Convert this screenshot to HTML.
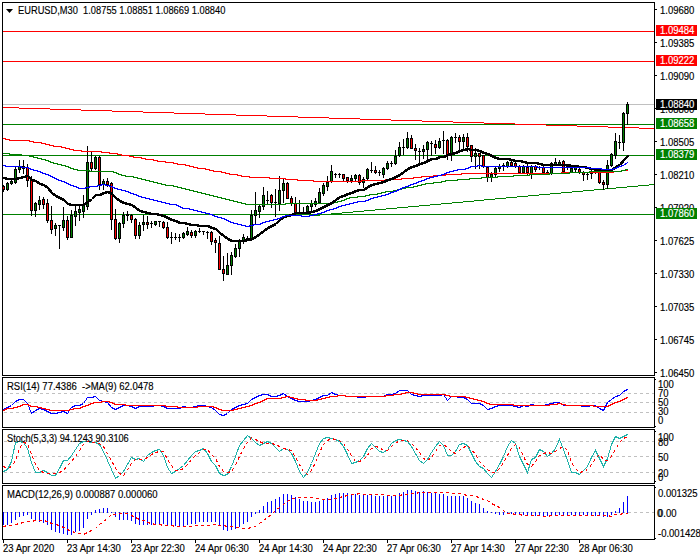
<!DOCTYPE html>
<html><head><meta charset="utf-8"><style>
html,body{margin:0;padding:0;background:#fff;}
body{width:700px;height:560px;position:relative;overflow:hidden;}
svg{position:absolute;left:0;top:0;}
.t{position:absolute;font-family:"Liberation Sans",sans-serif;font-size:10px;line-height:11px;white-space:pre;transform:scaleX(0.95);transform-origin:0 0;-webkit-text-stroke:0.15px #000;}
.b{position:absolute;left:656px;width:41px;height:11px;font-family:"Liberation Sans",sans-serif;font-size:10px;line-height:11px;color:#fff;white-space:pre;}
.b span{position:absolute;left:4px;top:0;transform:scaleX(0.95);transform-origin:0 0;-webkit-text-stroke:0.15px #fff;}
</style></head><body>
<svg width="700" height="560" viewBox="0 0 700 560" shape-rendering="crispEdges"><rect x="0" y="0" width="700" height="560" fill="#fff"/><defs><clipPath id="cm"><rect x="3" y="3" width="651" height="372"/></clipPath><clipPath id="cr"><rect x="3" y="378" width="651" height="49"/></clipPath><clipPath id="cs"><rect x="3" y="430" width="651" height="53"/></clipPath><clipPath id="cd"><rect x="3" y="486" width="651" height="53"/></clipPath></defs><g clip-path="url(#cm)"><rect x="3" y="31" width="651" height="1" fill="#ff0000"/><rect x="3" y="61" width="651" height="1" fill="#ff0000"/><rect x="3" y="104" width="651" height="1" fill="#c0c0c0"/><rect x="3" y="124" width="651" height="1" fill="#008000"/><rect x="3" y="155" width="651" height="1" fill="#008000"/><rect x="3" y="214" width="651" height="1" fill="#008000"/><rect x="3" y="107" width="16" height="1" fill="#ff0000"/><rect x="19" y="108" width="31" height="1" fill="#ff0000"/><rect x="50" y="109" width="31" height="1" fill="#ff0000"/><rect x="81" y="110" width="31" height="1" fill="#ff0000"/><rect x="112" y="111" width="31" height="1" fill="#ff0000"/><rect x="143" y="112" width="31" height="1" fill="#ff0000"/><rect x="174" y="113" width="31" height="1" fill="#ff0000"/><rect x="205" y="114" width="31" height="1" fill="#ff0000"/><rect x="236" y="115" width="31" height="1" fill="#ff0000"/><rect x="267" y="116" width="31" height="1" fill="#ff0000"/><rect x="298" y="117" width="31" height="1" fill="#ff0000"/><rect x="329" y="118" width="31" height="1" fill="#ff0000"/><rect x="360" y="119" width="31" height="1" fill="#ff0000"/><rect x="391" y="120" width="31" height="1" fill="#ff0000"/><rect x="422" y="121" width="31" height="1" fill="#ff0000"/><rect x="453" y="122" width="31" height="1" fill="#ff0000"/><rect x="484" y="123" width="31" height="1" fill="#ff0000"/><rect x="515" y="124" width="31" height="1" fill="#ff0000"/><rect x="546" y="125" width="31" height="1" fill="#ff0000"/><rect x="577" y="126" width="31" height="1" fill="#ff0000"/><rect x="608" y="127" width="31" height="1" fill="#ff0000"/><rect x="639" y="128" width="16" height="1" fill="#ff0000"/><rect x="303" y="216" width="6" height="1" fill="#008000"/><rect x="309" y="215" width="11" height="1" fill="#008000"/><rect x="320" y="214" width="11" height="1" fill="#008000"/><rect x="331" y="213" width="11" height="1" fill="#008000"/><rect x="342" y="212" width="11" height="1" fill="#008000"/><rect x="353" y="211" width="11" height="1" fill="#008000"/><rect x="364" y="210" width="11" height="1" fill="#008000"/><rect x="375" y="209" width="11" height="1" fill="#008000"/><rect x="386" y="208" width="11" height="1" fill="#008000"/><rect x="397" y="207" width="11" height="1" fill="#008000"/><rect x="408" y="206" width="11" height="1" fill="#008000"/><rect x="419" y="205" width="11" height="1" fill="#008000"/><rect x="430" y="204" width="11" height="1" fill="#008000"/><rect x="441" y="203" width="11" height="1" fill="#008000"/><rect x="452" y="202" width="11" height="1" fill="#008000"/><rect x="463" y="201" width="11" height="1" fill="#008000"/><rect x="474" y="200" width="10" height="1" fill="#008000"/><rect x="484" y="199" width="11" height="1" fill="#008000"/><rect x="495" y="198" width="11" height="1" fill="#008000"/><rect x="506" y="197" width="11" height="1" fill="#008000"/><rect x="517" y="196" width="11" height="1" fill="#008000"/><rect x="528" y="195" width="11" height="1" fill="#008000"/><rect x="539" y="194" width="11" height="1" fill="#008000"/><rect x="550" y="193" width="11" height="1" fill="#008000"/><rect x="561" y="192" width="11" height="1" fill="#008000"/><rect x="572" y="191" width="11" height="1" fill="#008000"/><rect x="583" y="190" width="11" height="1" fill="#008000"/><rect x="594" y="189" width="11" height="1" fill="#008000"/><rect x="605" y="188" width="11" height="1" fill="#008000"/><rect x="616" y="187" width="11" height="1" fill="#008000"/><rect x="627" y="186" width="11" height="1" fill="#008000"/><rect x="638" y="185" width="11" height="1" fill="#008000"/><rect x="649" y="184" width="6" height="1" fill="#008000"/><rect x="3" y="185" width="1" height="7" fill="#000"/><rect x="2" y="186" width="3" height="4" fill="#000"/><rect x="3" y="187" width="1" height="2" fill="#ff0000"/><rect x="7" y="182" width="1" height="9" fill="#000"/><rect x="6" y="183" width="3" height="7" fill="#000"/><rect x="7" y="184" width="1" height="5" fill="#008000"/><rect x="11" y="180" width="1" height="5" fill="#000"/><rect x="10" y="181" width="3" height="3" fill="#000"/><rect x="11" y="182" width="1" height="1" fill="#008000"/><rect x="15" y="166" width="1" height="18" fill="#000"/><rect x="14" y="169" width="3" height="14" fill="#000"/><rect x="15" y="170" width="1" height="12" fill="#008000"/><rect x="19" y="160" width="1" height="13" fill="#000"/><rect x="18" y="166" width="3" height="4" fill="#000"/><rect x="19" y="167" width="1" height="2" fill="#008000"/><rect x="23" y="160" width="1" height="14" fill="#000"/><rect x="22" y="166" width="3" height="3" fill="#000"/><rect x="23" y="167" width="1" height="1" fill="#008000"/><rect x="27" y="164" width="1" height="23" fill="#000"/><rect x="26" y="167" width="3" height="14" fill="#000"/><rect x="27" y="168" width="1" height="12" fill="#ff0000"/><rect x="31" y="176" width="1" height="40" fill="#000"/><rect x="30" y="180" width="3" height="31" fill="#000"/><rect x="31" y="181" width="1" height="29" fill="#ff0000"/><rect x="35" y="202" width="1" height="15" fill="#000"/><rect x="34" y="203" width="3" height="8" fill="#000"/><rect x="35" y="204" width="1" height="6" fill="#008000"/><rect x="39" y="196" width="1" height="14" fill="#000"/><rect x="38" y="200" width="3" height="5" fill="#000"/><rect x="39" y="201" width="1" height="3" fill="#008000"/><rect x="43" y="197" width="1" height="12" fill="#000"/><rect x="42" y="199" width="3" height="6" fill="#000"/><rect x="43" y="200" width="1" height="4" fill="#ff0000"/><rect x="47" y="199" width="1" height="24" fill="#000"/><rect x="46" y="203" width="3" height="18" fill="#000"/><rect x="47" y="204" width="1" height="16" fill="#ff0000"/><rect x="51" y="206" width="1" height="28" fill="#000"/><rect x="50" y="220" width="3" height="10" fill="#000"/><rect x="51" y="221" width="1" height="8" fill="#ff0000"/><rect x="55" y="223" width="1" height="13" fill="#000"/><rect x="54" y="225" width="3" height="4" fill="#000"/><rect x="55" y="226" width="1" height="2" fill="#008000"/><rect x="59" y="225" width="1" height="24" fill="#000"/><rect x="58" y="225" width="3" height="1" fill="#000"/><rect x="63" y="207" width="1" height="24" fill="#000"/><rect x="62" y="220" width="3" height="8" fill="#000"/><rect x="63" y="221" width="1" height="6" fill="#008000"/><rect x="67" y="216" width="1" height="24" fill="#000"/><rect x="66" y="220" width="3" height="18" fill="#000"/><rect x="67" y="221" width="1" height="16" fill="#ff0000"/><rect x="71" y="210" width="1" height="28" fill="#000"/><rect x="70" y="215" width="3" height="23" fill="#000"/><rect x="71" y="216" width="1" height="21" fill="#008000"/><rect x="75" y="206" width="1" height="20" fill="#000"/><rect x="74" y="211" width="3" height="6" fill="#000"/><rect x="75" y="212" width="1" height="4" fill="#008000"/><rect x="79" y="205" width="1" height="16" fill="#000"/><rect x="78" y="209" width="3" height="4" fill="#000"/><rect x="79" y="210" width="1" height="2" fill="#008000"/><rect x="83" y="195" width="1" height="23" fill="#000"/><rect x="82" y="205" width="3" height="7" fill="#000"/><rect x="83" y="206" width="1" height="5" fill="#008000"/><rect x="87" y="146" width="1" height="64" fill="#000"/><rect x="86" y="162" width="3" height="45" fill="#000"/><rect x="87" y="163" width="1" height="43" fill="#008000"/><rect x="91" y="151" width="1" height="21" fill="#000"/><rect x="90" y="162" width="3" height="7" fill="#000"/><rect x="91" y="163" width="1" height="5" fill="#ff0000"/><rect x="95" y="156" width="1" height="14" fill="#000"/><rect x="94" y="157" width="3" height="12" fill="#000"/><rect x="95" y="158" width="1" height="10" fill="#008000"/><rect x="99" y="156" width="1" height="34" fill="#000"/><rect x="98" y="157" width="3" height="28" fill="#000"/><rect x="99" y="158" width="1" height="26" fill="#ff0000"/><rect x="103" y="179" width="1" height="11" fill="#000"/><rect x="102" y="181" width="3" height="4" fill="#000"/><rect x="103" y="182" width="1" height="2" fill="#008000"/><rect x="107" y="178" width="1" height="9" fill="#000"/><rect x="106" y="181" width="3" height="4" fill="#000"/><rect x="107" y="182" width="1" height="2" fill="#ff0000"/><rect x="111" y="182" width="1" height="48" fill="#000"/><rect x="110" y="183" width="3" height="37" fill="#000"/><rect x="111" y="184" width="1" height="35" fill="#ff0000"/><rect x="115" y="209" width="1" height="31" fill="#000"/><rect x="114" y="219" width="3" height="20" fill="#000"/><rect x="115" y="220" width="1" height="18" fill="#ff0000"/><rect x="119" y="222" width="1" height="21" fill="#000"/><rect x="118" y="223" width="3" height="16" fill="#000"/><rect x="119" y="224" width="1" height="14" fill="#008000"/><rect x="123" y="212" width="1" height="16" fill="#000"/><rect x="122" y="215" width="3" height="9" fill="#000"/><rect x="123" y="216" width="1" height="7" fill="#008000"/><rect x="127" y="211" width="1" height="10" fill="#000"/><rect x="126" y="214" width="3" height="2" fill="#000"/><rect x="131" y="214" width="1" height="9" fill="#000"/><rect x="130" y="215" width="3" height="5" fill="#000"/><rect x="131" y="216" width="1" height="3" fill="#ff0000"/><rect x="135" y="218" width="1" height="21" fill="#000"/><rect x="134" y="219" width="3" height="17" fill="#000"/><rect x="135" y="220" width="1" height="15" fill="#ff0000"/><rect x="139" y="222" width="1" height="17" fill="#000"/><rect x="138" y="225" width="3" height="11" fill="#000"/><rect x="139" y="226" width="1" height="9" fill="#008000"/><rect x="143" y="215" width="1" height="16" fill="#000"/><rect x="142" y="222" width="3" height="3" fill="#000"/><rect x="143" y="223" width="1" height="1" fill="#008000"/><rect x="147" y="216" width="1" height="13" fill="#000"/><rect x="146" y="222" width="3" height="3" fill="#000"/><rect x="147" y="223" width="1" height="1" fill="#ff0000"/><rect x="151" y="221" width="1" height="7" fill="#000"/><rect x="150" y="223" width="3" height="1" fill="#000"/><rect x="155" y="221" width="1" height="5" fill="#000"/><rect x="154" y="221" width="3" height="4" fill="#000"/><rect x="155" y="222" width="1" height="2" fill="#008000"/><rect x="159" y="221" width="1" height="6" fill="#000"/><rect x="158" y="221" width="3" height="1" fill="#000"/><rect x="163" y="221" width="1" height="8" fill="#000"/><rect x="162" y="222" width="3" height="6" fill="#000"/><rect x="163" y="223" width="1" height="4" fill="#ff0000"/><rect x="167" y="222" width="1" height="17" fill="#000"/><rect x="166" y="227" width="3" height="11" fill="#000"/><rect x="167" y="228" width="1" height="9" fill="#ff0000"/><rect x="171" y="232" width="1" height="12" fill="#000"/><rect x="170" y="237" width="3" height="1" fill="#000"/><rect x="175" y="233" width="1" height="7" fill="#000"/><rect x="174" y="237" width="3" height="1" fill="#000"/><rect x="179" y="234" width="1" height="8" fill="#000"/><rect x="178" y="237" width="3" height="1" fill="#000"/><rect x="183" y="232" width="1" height="7" fill="#000"/><rect x="182" y="233" width="3" height="5" fill="#000"/><rect x="183" y="234" width="1" height="3" fill="#008000"/><rect x="187" y="227" width="1" height="9" fill="#000"/><rect x="186" y="231" width="3" height="4" fill="#000"/><rect x="187" y="232" width="1" height="2" fill="#008000"/><rect x="191" y="230" width="1" height="8" fill="#000"/><rect x="190" y="232" width="3" height="4" fill="#000"/><rect x="191" y="233" width="1" height="2" fill="#ff0000"/><rect x="195" y="230" width="1" height="8" fill="#000"/><rect x="194" y="231" width="3" height="5" fill="#000"/><rect x="195" y="232" width="1" height="3" fill="#008000"/><rect x="199" y="228" width="1" height="5" fill="#000"/><rect x="198" y="231" width="3" height="1" fill="#000"/><rect x="203" y="231" width="1" height="4" fill="#000"/><rect x="202" y="231" width="3" height="1" fill="#000"/><rect x="207" y="231" width="1" height="8" fill="#000"/><rect x="206" y="232" width="3" height="1" fill="#000"/><rect x="211" y="231" width="1" height="14" fill="#000"/><rect x="210" y="232" width="3" height="10" fill="#000"/><rect x="211" y="233" width="1" height="8" fill="#ff0000"/><rect x="215" y="238" width="1" height="15" fill="#000"/><rect x="214" y="240" width="3" height="3" fill="#000"/><rect x="215" y="241" width="1" height="1" fill="#ff0000"/><rect x="219" y="236" width="1" height="34" fill="#000"/><rect x="218" y="243" width="3" height="27" fill="#000"/><rect x="219" y="244" width="1" height="25" fill="#ff0000"/><rect x="223" y="256" width="1" height="25" fill="#000"/><rect x="222" y="269" width="3" height="5" fill="#000"/><rect x="223" y="270" width="1" height="3" fill="#ff0000"/><rect x="227" y="253" width="1" height="22" fill="#000"/><rect x="226" y="265" width="3" height="10" fill="#000"/><rect x="227" y="266" width="1" height="8" fill="#008000"/><rect x="231" y="252" width="1" height="23" fill="#000"/><rect x="230" y="255" width="3" height="11" fill="#000"/><rect x="231" y="256" width="1" height="9" fill="#008000"/><rect x="235" y="244" width="1" height="14" fill="#000"/><rect x="234" y="248" width="3" height="9" fill="#000"/><rect x="235" y="249" width="1" height="7" fill="#008000"/><rect x="239" y="239" width="1" height="18" fill="#000"/><rect x="238" y="241" width="3" height="8" fill="#000"/><rect x="239" y="242" width="1" height="6" fill="#008000"/><rect x="243" y="234" width="1" height="10" fill="#000"/><rect x="242" y="237" width="3" height="4" fill="#000"/><rect x="243" y="238" width="1" height="2" fill="#008000"/><rect x="247" y="236" width="1" height="5" fill="#000"/><rect x="246" y="238" width="3" height="1" fill="#000"/><rect x="251" y="210" width="1" height="31" fill="#000"/><rect x="250" y="215" width="3" height="25" fill="#000"/><rect x="251" y="216" width="1" height="23" fill="#008000"/><rect x="255" y="192" width="1" height="32" fill="#000"/><rect x="254" y="210" width="3" height="6" fill="#000"/><rect x="255" y="211" width="1" height="4" fill="#008000"/><rect x="259" y="205" width="1" height="13" fill="#000"/><rect x="258" y="206" width="3" height="6" fill="#000"/><rect x="259" y="207" width="1" height="4" fill="#008000"/><rect x="263" y="187" width="1" height="23" fill="#000"/><rect x="262" y="195" width="3" height="12" fill="#000"/><rect x="263" y="196" width="1" height="10" fill="#008000"/><rect x="267" y="191" width="1" height="13" fill="#000"/><rect x="266" y="200" width="3" height="1" fill="#000"/><rect x="271" y="194" width="1" height="14" fill="#000"/><rect x="270" y="195" width="3" height="8" fill="#000"/><rect x="271" y="196" width="1" height="6" fill="#ff0000"/><rect x="275" y="189" width="1" height="28" fill="#000"/><rect x="274" y="202" width="3" height="1" fill="#000"/><rect x="279" y="176" width="1" height="35" fill="#000"/><rect x="278" y="190" width="3" height="14" fill="#000"/><rect x="279" y="191" width="1" height="12" fill="#008000"/><rect x="283" y="178" width="1" height="25" fill="#000"/><rect x="282" y="183" width="3" height="8" fill="#000"/><rect x="283" y="184" width="1" height="6" fill="#008000"/><rect x="287" y="182" width="1" height="17" fill="#000"/><rect x="286" y="183" width="3" height="16" fill="#000"/><rect x="287" y="184" width="1" height="14" fill="#ff0000"/><rect x="291" y="196" width="1" height="10" fill="#000"/><rect x="290" y="198" width="3" height="6" fill="#000"/><rect x="291" y="199" width="1" height="4" fill="#ff0000"/><rect x="295" y="197" width="1" height="17" fill="#000"/><rect x="294" y="203" width="3" height="10" fill="#000"/><rect x="295" y="204" width="1" height="8" fill="#ff0000"/><rect x="299" y="200" width="1" height="14" fill="#000"/><rect x="298" y="212" width="3" height="1" fill="#000"/><rect x="303" y="207" width="1" height="7" fill="#000"/><rect x="302" y="212" width="3" height="1" fill="#000"/><rect x="307" y="205" width="1" height="8" fill="#000"/><rect x="306" y="206" width="3" height="6" fill="#000"/><rect x="307" y="207" width="1" height="4" fill="#008000"/><rect x="311" y="200" width="1" height="12" fill="#000"/><rect x="310" y="203" width="3" height="4" fill="#000"/><rect x="311" y="204" width="1" height="2" fill="#008000"/><rect x="315" y="198" width="1" height="9" fill="#000"/><rect x="314" y="201" width="3" height="4" fill="#000"/><rect x="315" y="202" width="1" height="2" fill="#008000"/><rect x="319" y="188" width="1" height="16" fill="#000"/><rect x="318" y="192" width="3" height="11" fill="#000"/><rect x="319" y="193" width="1" height="9" fill="#008000"/><rect x="323" y="183" width="1" height="13" fill="#000"/><rect x="322" y="185" width="3" height="9" fill="#000"/><rect x="323" y="186" width="1" height="7" fill="#008000"/><rect x="327" y="176" width="1" height="15" fill="#000"/><rect x="326" y="182" width="3" height="5" fill="#000"/><rect x="327" y="183" width="1" height="3" fill="#008000"/><rect x="331" y="165" width="1" height="18" fill="#000"/><rect x="330" y="171" width="3" height="11" fill="#000"/><rect x="331" y="172" width="1" height="9" fill="#008000"/><rect x="335" y="173" width="1" height="5" fill="#000"/><rect x="334" y="174" width="3" height="1" fill="#000"/><rect x="339" y="173" width="1" height="5" fill="#000"/><rect x="338" y="174" width="3" height="1" fill="#000"/><rect x="343" y="174" width="1" height="7" fill="#000"/><rect x="342" y="174" width="3" height="5" fill="#000"/><rect x="343" y="175" width="1" height="3" fill="#ff0000"/><rect x="347" y="177" width="1" height="6" fill="#000"/><rect x="346" y="177" width="3" height="4" fill="#000"/><rect x="347" y="178" width="1" height="2" fill="#ff0000"/><rect x="351" y="175" width="1" height="8" fill="#000"/><rect x="350" y="178" width="3" height="3" fill="#000"/><rect x="351" y="179" width="1" height="1" fill="#008000"/><rect x="355" y="174" width="1" height="8" fill="#000"/><rect x="354" y="175" width="3" height="4" fill="#000"/><rect x="355" y="176" width="1" height="2" fill="#008000"/><rect x="359" y="174" width="1" height="11" fill="#000"/><rect x="358" y="175" width="3" height="8" fill="#000"/><rect x="359" y="176" width="1" height="6" fill="#ff0000"/><rect x="363" y="177" width="1" height="11" fill="#000"/><rect x="362" y="179" width="3" height="4" fill="#000"/><rect x="363" y="180" width="1" height="2" fill="#008000"/><rect x="367" y="168" width="1" height="13" fill="#000"/><rect x="366" y="169" width="3" height="10" fill="#000"/><rect x="367" y="170" width="1" height="8" fill="#008000"/><rect x="371" y="162" width="1" height="11" fill="#000"/><rect x="370" y="170" width="3" height="1" fill="#000"/><rect x="375" y="166" width="1" height="8" fill="#000"/><rect x="374" y="170" width="3" height="3" fill="#000"/><rect x="375" y="171" width="1" height="1" fill="#ff0000"/><rect x="379" y="170" width="1" height="6" fill="#000"/><rect x="378" y="172" width="3" height="1" fill="#000"/><rect x="383" y="167" width="1" height="11" fill="#000"/><rect x="382" y="168" width="3" height="7" fill="#000"/><rect x="383" y="169" width="1" height="5" fill="#008000"/><rect x="387" y="161" width="1" height="9" fill="#000"/><rect x="386" y="163" width="3" height="6" fill="#000"/><rect x="387" y="164" width="1" height="4" fill="#008000"/><rect x="391" y="161" width="1" height="6" fill="#000"/><rect x="390" y="163" width="3" height="1" fill="#000"/><rect x="395" y="150" width="1" height="15" fill="#000"/><rect x="394" y="156" width="3" height="8" fill="#000"/><rect x="395" y="157" width="1" height="6" fill="#008000"/><rect x="399" y="142" width="1" height="15" fill="#000"/><rect x="398" y="147" width="3" height="9" fill="#000"/><rect x="399" y="148" width="1" height="7" fill="#008000"/><rect x="403" y="139" width="1" height="16" fill="#000"/><rect x="402" y="147" width="3" height="1" fill="#000"/><rect x="407" y="132" width="1" height="17" fill="#000"/><rect x="406" y="138" width="3" height="10" fill="#000"/><rect x="407" y="139" width="1" height="8" fill="#008000"/><rect x="411" y="135" width="1" height="14" fill="#000"/><rect x="410" y="138" width="3" height="11" fill="#000"/><rect x="411" y="139" width="1" height="9" fill="#ff0000"/><rect x="415" y="144" width="1" height="16" fill="#000"/><rect x="414" y="148" width="3" height="3" fill="#000"/><rect x="415" y="149" width="1" height="1" fill="#ff0000"/><rect x="419" y="148" width="1" height="15" fill="#000"/><rect x="418" y="151" width="3" height="1" fill="#000"/><rect x="423" y="145" width="1" height="14" fill="#000"/><rect x="422" y="149" width="3" height="3" fill="#000"/><rect x="423" y="150" width="1" height="1" fill="#008000"/><rect x="427" y="141" width="1" height="19" fill="#000"/><rect x="426" y="142" width="3" height="8" fill="#000"/><rect x="427" y="143" width="1" height="6" fill="#008000"/><rect x="431" y="141" width="1" height="15" fill="#000"/><rect x="430" y="143" width="3" height="1" fill="#000"/><rect x="435" y="140" width="1" height="14" fill="#000"/><rect x="434" y="144" width="3" height="4" fill="#000"/><rect x="435" y="145" width="1" height="2" fill="#ff0000"/><rect x="439" y="138" width="1" height="11" fill="#000"/><rect x="438" y="141" width="3" height="7" fill="#000"/><rect x="439" y="142" width="1" height="5" fill="#008000"/><rect x="443" y="131" width="1" height="23" fill="#000"/><rect x="442" y="140" width="3" height="1" fill="#000"/><rect x="447" y="139" width="1" height="21" fill="#000"/><rect x="446" y="140" width="3" height="15" fill="#000"/><rect x="447" y="141" width="1" height="13" fill="#ff0000"/><rect x="451" y="136" width="1" height="25" fill="#000"/><rect x="450" y="137" width="3" height="18" fill="#000"/><rect x="451" y="138" width="1" height="16" fill="#008000"/><rect x="455" y="133" width="1" height="10" fill="#000"/><rect x="454" y="137" width="3" height="1" fill="#000"/><rect x="459" y="135" width="1" height="18" fill="#000"/><rect x="458" y="137" width="3" height="5" fill="#000"/><rect x="459" y="138" width="1" height="3" fill="#ff0000"/><rect x="463" y="134" width="1" height="15" fill="#000"/><rect x="462" y="137" width="3" height="5" fill="#000"/><rect x="463" y="138" width="1" height="3" fill="#008000"/><rect x="467" y="133" width="1" height="19" fill="#000"/><rect x="466" y="137" width="3" height="10" fill="#000"/><rect x="467" y="138" width="1" height="8" fill="#ff0000"/><rect x="471" y="145" width="1" height="17" fill="#000"/><rect x="470" y="145" width="3" height="12" fill="#000"/><rect x="471" y="146" width="1" height="10" fill="#ff0000"/><rect x="475" y="148" width="1" height="21" fill="#000"/><rect x="474" y="153" width="3" height="4" fill="#000"/><rect x="475" y="154" width="1" height="2" fill="#008000"/><rect x="479" y="153" width="1" height="16" fill="#000"/><rect x="478" y="153" width="3" height="4" fill="#000"/><rect x="479" y="154" width="1" height="2" fill="#ff0000"/><rect x="483" y="155" width="1" height="13" fill="#000"/><rect x="482" y="155" width="3" height="12" fill="#000"/><rect x="483" y="156" width="1" height="10" fill="#ff0000"/><rect x="487" y="166" width="1" height="16" fill="#000"/><rect x="486" y="167" width="3" height="11" fill="#000"/><rect x="487" y="168" width="1" height="9" fill="#ff0000"/><rect x="491" y="172" width="1" height="10" fill="#000"/><rect x="490" y="174" width="3" height="4" fill="#000"/><rect x="491" y="175" width="1" height="2" fill="#008000"/><rect x="495" y="167" width="1" height="10" fill="#000"/><rect x="494" y="168" width="3" height="7" fill="#000"/><rect x="495" y="169" width="1" height="5" fill="#008000"/><rect x="499" y="164" width="1" height="8" fill="#000"/><rect x="498" y="166" width="3" height="3" fill="#000"/><rect x="499" y="167" width="1" height="1" fill="#008000"/><rect x="503" y="163" width="1" height="8" fill="#000"/><rect x="502" y="165" width="3" height="1" fill="#000"/><rect x="507" y="161" width="1" height="7" fill="#000"/><rect x="506" y="162" width="3" height="5" fill="#000"/><rect x="507" y="163" width="1" height="3" fill="#008000"/><rect x="511" y="161" width="1" height="6" fill="#000"/><rect x="510" y="162" width="3" height="4" fill="#000"/><rect x="511" y="163" width="1" height="2" fill="#ff0000"/><rect x="515" y="162" width="1" height="6" fill="#000"/><rect x="514" y="163" width="3" height="4" fill="#000"/><rect x="515" y="164" width="1" height="2" fill="#ff0000"/><rect x="519" y="165" width="1" height="9" fill="#000"/><rect x="518" y="166" width="3" height="7" fill="#000"/><rect x="519" y="167" width="1" height="5" fill="#ff0000"/><rect x="523" y="165" width="1" height="9" fill="#000"/><rect x="522" y="166" width="3" height="7" fill="#000"/><rect x="523" y="167" width="1" height="5" fill="#008000"/><rect x="527" y="164" width="1" height="12" fill="#000"/><rect x="526" y="167" width="3" height="6" fill="#000"/><rect x="527" y="168" width="1" height="4" fill="#ff0000"/><rect x="531" y="165" width="1" height="14" fill="#000"/><rect x="530" y="166" width="3" height="8" fill="#000"/><rect x="531" y="167" width="1" height="6" fill="#008000"/><rect x="535" y="165" width="1" height="7" fill="#000"/><rect x="534" y="166" width="3" height="4" fill="#000"/><rect x="535" y="167" width="1" height="2" fill="#ff0000"/><rect x="539" y="166" width="1" height="4" fill="#000"/><rect x="538" y="167" width="3" height="1" fill="#000"/><rect x="543" y="166" width="1" height="8" fill="#000"/><rect x="542" y="167" width="3" height="6" fill="#000"/><rect x="543" y="168" width="1" height="4" fill="#ff0000"/><rect x="547" y="170" width="1" height="4" fill="#000"/><rect x="546" y="172" width="3" height="1" fill="#000"/><rect x="551" y="162" width="1" height="13" fill="#000"/><rect x="550" y="163" width="3" height="11" fill="#000"/><rect x="551" y="164" width="1" height="9" fill="#008000"/><rect x="555" y="158" width="1" height="8" fill="#000"/><rect x="554" y="162" width="3" height="3" fill="#000"/><rect x="555" y="163" width="1" height="1" fill="#008000"/><rect x="559" y="160" width="1" height="6" fill="#000"/><rect x="558" y="162" width="3" height="3" fill="#000"/><rect x="559" y="163" width="1" height="1" fill="#008000"/><rect x="563" y="160" width="1" height="13" fill="#000"/><rect x="562" y="161" width="3" height="11" fill="#000"/><rect x="563" y="162" width="1" height="9" fill="#ff0000"/><rect x="567" y="164" width="1" height="6" fill="#000"/><rect x="566" y="166" width="3" height="1" fill="#000"/><rect x="571" y="167" width="1" height="6" fill="#000"/><rect x="570" y="168" width="3" height="5" fill="#000"/><rect x="571" y="169" width="1" height="3" fill="#008000"/><rect x="575" y="166" width="1" height="7" fill="#000"/><rect x="574" y="167" width="3" height="3" fill="#000"/><rect x="575" y="168" width="1" height="1" fill="#008000"/><rect x="579" y="168" width="1" height="6" fill="#000"/><rect x="578" y="169" width="3" height="4" fill="#000"/><rect x="579" y="170" width="1" height="2" fill="#ff0000"/><rect x="583" y="171" width="1" height="10" fill="#000"/><rect x="582" y="172" width="3" height="3" fill="#000"/><rect x="583" y="173" width="1" height="1" fill="#ff0000"/><rect x="587" y="172" width="1" height="8" fill="#000"/><rect x="586" y="174" width="3" height="1" fill="#000"/><rect x="591" y="170" width="1" height="9" fill="#000"/><rect x="590" y="173" width="3" height="1" fill="#000"/><rect x="595" y="169" width="1" height="5" fill="#000"/><rect x="594" y="170" width="3" height="3" fill="#000"/><rect x="595" y="171" width="1" height="1" fill="#008000"/><rect x="599" y="170" width="1" height="14" fill="#000"/><rect x="598" y="172" width="3" height="11" fill="#000"/><rect x="599" y="173" width="1" height="9" fill="#ff0000"/><rect x="603" y="180" width="1" height="10" fill="#000"/><rect x="602" y="182" width="3" height="3" fill="#000"/><rect x="603" y="183" width="1" height="1" fill="#ff0000"/><rect x="607" y="160" width="1" height="29" fill="#000"/><rect x="606" y="165" width="3" height="20" fill="#000"/><rect x="607" y="166" width="1" height="18" fill="#008000"/><rect x="611" y="153" width="1" height="14" fill="#000"/><rect x="610" y="154" width="3" height="12" fill="#000"/><rect x="611" y="155" width="1" height="10" fill="#008000"/><rect x="615" y="133" width="1" height="26" fill="#000"/><rect x="614" y="141" width="3" height="15" fill="#000"/><rect x="615" y="142" width="1" height="13" fill="#008000"/><rect x="619" y="135" width="1" height="14" fill="#000"/><rect x="618" y="142" width="3" height="1" fill="#000"/><rect x="623" y="112" width="1" height="39" fill="#000"/><rect x="622" y="113" width="3" height="30" fill="#000"/><rect x="623" y="114" width="1" height="28" fill="#008000"/><rect x="627" y="102" width="1" height="23" fill="#000"/><rect x="626" y="104" width="3" height="10" fill="#000"/><rect x="627" y="105" width="1" height="8" fill="#008000"/><polyline points="3.5,138.5 7.5,139.5 11.5,140.5 15.5,140.5 19.5,140.5 23.5,140.5 27.5,140.5 31.5,141.5 35.5,142.5 39.5,142.5 43.5,143.5 47.5,144.5 51.5,145.5 55.5,146.5 59.5,146.5 63.5,147.5 67.5,148.5 71.5,149.5 75.5,150.5 79.5,150.5 83.5,151.5 87.5,151.5 91.5,151.5 95.5,151.5 99.5,151.5 103.5,152.5 107.5,152.5 111.5,153.5 115.5,153.5 119.5,154.5 123.5,155.5 127.5,155.5 131.5,156.5 135.5,157.5 139.5,157.5 143.5,158.5 147.5,159.5 151.5,159.5 155.5,160.5 159.5,161.5 163.5,161.5 167.5,162.5 171.5,162.5 175.5,163.5 179.5,164.5 183.5,164.5 187.5,165.5 191.5,166.5 195.5,167.5 199.5,168.5 203.5,168.5 207.5,169.5 211.5,170.5 215.5,171.5 219.5,171.5 223.5,172.5 227.5,173.5 231.5,174.5 235.5,174.5 239.5,175.5 243.5,176.5 247.5,176.5 251.5,177.5 255.5,177.5 259.5,177.5 263.5,177.5 267.5,177.5 271.5,178.5 275.5,178.5 279.5,178.5 283.5,178.5 287.5,179.5 291.5,179.5 295.5,179.5 299.5,180.5 303.5,180.5 307.5,180.5 311.5,180.5 315.5,181.5 319.5,181.5 323.5,181.5 327.5,181.5 331.5,181.5 335.5,181.5 339.5,181.5 343.5,181.5 347.5,181.5 351.5,181.5 355.5,181.5 359.5,181.5 363.5,180.5 367.5,180.5 371.5,180.5 375.5,180.5 379.5,180.5 383.5,180.5 387.5,179.5 391.5,179.5 395.5,179.5 399.5,179.5 403.5,178.5 407.5,178.5 411.5,178.5 415.5,177.5 419.5,177.5 423.5,176.5 427.5,176.5 431.5,176.5 435.5,175.5 439.5,175.5 443.5,175.5 447.5,174.5 451.5,174.5 455.5,174.5 459.5,174.5 463.5,173.5 467.5,173.5 471.5,173.5 475.5,173.5 479.5,173.5 483.5,173.5 487.5,173.5 491.5,173.5 495.5,173.5 499.5,173.5 503.5,173.5 507.5,173.5 511.5,173.5 515.5,173.5 519.5,173.5 523.5,173.5 527.5,173.5 531.5,173.5 535.5,173.5 539.5,173.5 543.5,173.5 547.5,173.5 551.5,173.5 555.5,173.5 559.5,173.5 563.5,172.5 567.5,172.5 571.5,172.5 575.5,172.5 579.5,172.5 583.5,172.5 587.5,172.5 591.5,172.5 595.5,172.5 599.5,172.5 603.5,172.5 607.5,172.5 611.5,172.5 615.5,171.5 619.5,171.5 623.5,170.5 627.5,170.5" fill="none" stroke="#ff0000" stroke-width="1" stroke-linecap="square"/><polyline points="3.5,153.5 7.5,153.5 11.5,154.5 15.5,154.5 19.5,154.5 23.5,155.5 27.5,155.5 31.5,156.5 35.5,157.5 39.5,158.5 43.5,159.5 47.5,160.5 51.5,162.5 55.5,163.5 59.5,164.5 63.5,165.5 67.5,166.5 71.5,168.5 75.5,169.5 79.5,170.5 83.5,170.5 87.5,170.5 91.5,171.5 95.5,171.5 99.5,171.5 103.5,171.5 107.5,171.5 111.5,171.5 115.5,172.5 119.5,174.5 123.5,175.5 127.5,176.5 131.5,176.5 135.5,177.5 139.5,178.5 143.5,179.5 147.5,180.5 151.5,181.5 155.5,182.5 159.5,183.5 163.5,184.5 167.5,185.5 171.5,185.5 175.5,186.5 179.5,187.5 183.5,188.5 187.5,189.5 191.5,190.5 195.5,191.5 199.5,192.5 203.5,193.5 207.5,194.5 211.5,195.5 215.5,196.5 219.5,197.5 223.5,198.5 227.5,199.5 231.5,200.5 235.5,201.5 239.5,202.5 243.5,203.5 247.5,204.5 251.5,204.5 255.5,204.5 259.5,204.5 263.5,204.5 267.5,204.5 271.5,204.5 275.5,204.5 279.5,204.5 283.5,204.5 287.5,203.5 291.5,203.5 295.5,203.5 299.5,203.5 303.5,203.5 307.5,203.5 311.5,203.5 315.5,203.5 319.5,203.5 323.5,203.5 327.5,203.5 331.5,203.5 335.5,202.5 339.5,201.5 343.5,200.5 347.5,198.5 351.5,197.5 355.5,197.5 359.5,196.5 363.5,196.5 367.5,195.5 371.5,194.5 375.5,194.5 379.5,193.5 383.5,192.5 387.5,191.5 391.5,191.5 395.5,190.5 399.5,189.5 403.5,188.5 407.5,187.5 411.5,187.5 415.5,186.5 419.5,185.5 423.5,184.5 427.5,183.5 431.5,183.5 435.5,182.5 439.5,182.5 443.5,181.5 447.5,180.5 451.5,180.5 455.5,180.5 459.5,179.5 463.5,179.5 467.5,179.5 471.5,178.5 475.5,178.5 479.5,178.5 483.5,177.5 487.5,177.5 491.5,177.5 495.5,177.5 499.5,176.5 503.5,176.5 507.5,176.5 511.5,176.5 515.5,175.5 519.5,175.5 523.5,175.5 527.5,175.5 531.5,174.5 535.5,174.5 539.5,174.5 543.5,174.5 547.5,174.5 551.5,173.5 555.5,173.5 559.5,173.5 563.5,173.5 567.5,173.5 571.5,172.5 575.5,172.5 579.5,172.5 583.5,172.5 587.5,172.5 591.5,171.5 595.5,171.5 599.5,171.5 603.5,171.5 607.5,171.5 611.5,171.5 615.5,171.5 619.5,171.5 623.5,170.5 627.5,169.5" fill="none" stroke="#008000" stroke-width="1" stroke-linecap="square"/><g transform="translate(0,0)"><polyline points="3.5,177.5 7.5,178.5 11.5,178.5 15.5,178.5 19.5,177.5 23.5,176.5 27.5,175.5 31.5,179.5 35.5,180.5 39.5,183.5 43.5,184.5 47.5,187.5 51.5,192.5 55.5,195.5 59.5,197.5 63.5,199.5 67.5,203.5 71.5,204.5 75.5,204.5 79.5,204.5 83.5,204.5 87.5,201.5 91.5,198.5 95.5,194.5 99.5,194.5 103.5,192.5 107.5,191.5 111.5,193.5 115.5,197.5 119.5,200.5 123.5,202.5 127.5,203.5 131.5,204.5 135.5,207.5 139.5,210.5 143.5,211.5 147.5,212.5 151.5,213.5 155.5,213.5 159.5,214.5 163.5,215.5 167.5,217.5 171.5,219.5 175.5,220.5 179.5,222.5 183.5,222.5 187.5,223.5 191.5,224.5 195.5,224.5 199.5,225.5 203.5,225.5 207.5,225.5 211.5,227.5 215.5,228.5 219.5,232.5 223.5,235.5 227.5,238.5 231.5,240.5 235.5,240.5 239.5,240.5 243.5,240.5 247.5,239.5 251.5,238.5 255.5,236.5 259.5,233.5 263.5,230.5 267.5,227.5 271.5,225.5 275.5,223.5 279.5,219.5 283.5,216.5 287.5,215.5 291.5,214.5 295.5,212.5 299.5,212.5 303.5,212.5 307.5,212.5 311.5,211.5 315.5,210.5 319.5,208.5 323.5,206.5 327.5,204.5 331.5,202.5 335.5,199.5 339.5,196.5 343.5,195.5 347.5,193.5 351.5,192.5 355.5,190.5 359.5,189.5 363.5,189.5 367.5,186.5 371.5,184.5 375.5,183.5 379.5,182.5 383.5,181.5 387.5,179.5 391.5,178.5 395.5,176.5 399.5,174.5 403.5,171.5 407.5,168.5 411.5,166.5 415.5,165.5 419.5,163.5 423.5,162.5 427.5,160.5 431.5,158.5 435.5,158.5 439.5,156.5 443.5,156.5 447.5,154.5 451.5,153.5 455.5,152.5 459.5,150.5 463.5,149.5 467.5,148.5 471.5,149.5 475.5,149.5 479.5,150.5 483.5,152.5 487.5,153.5 491.5,155.5 495.5,157.5 499.5,158.5 503.5,158.5 507.5,158.5 511.5,159.5 515.5,160.5 519.5,160.5 523.5,161.5 527.5,162.5 531.5,162.5 535.5,162.5 539.5,163.5 543.5,164.5 547.5,164.5 551.5,164.5 555.5,164.5 559.5,164.5 563.5,164.5 567.5,164.5 571.5,165.5 575.5,165.5 579.5,166.5 583.5,166.5 587.5,167.5 591.5,168.5 595.5,168.5 599.5,169.5 603.5,169.5 607.5,169.5 611.5,169.5 615.5,166.5 619.5,164.5 623.5,159.5 627.5,155.5" fill="none" stroke="#000" stroke-width="1" stroke-linecap="square"/></g><g transform="translate(1,0)"><polyline points="3.5,177.5 7.5,178.5 11.5,178.5 15.5,178.5 19.5,177.5 23.5,176.5 27.5,175.5 31.5,179.5 35.5,180.5 39.5,183.5 43.5,184.5 47.5,187.5 51.5,192.5 55.5,195.5 59.5,197.5 63.5,199.5 67.5,203.5 71.5,204.5 75.5,204.5 79.5,204.5 83.5,204.5 87.5,201.5 91.5,198.5 95.5,194.5 99.5,194.5 103.5,192.5 107.5,191.5 111.5,193.5 115.5,197.5 119.5,200.5 123.5,202.5 127.5,203.5 131.5,204.5 135.5,207.5 139.5,210.5 143.5,211.5 147.5,212.5 151.5,213.5 155.5,213.5 159.5,214.5 163.5,215.5 167.5,217.5 171.5,219.5 175.5,220.5 179.5,222.5 183.5,222.5 187.5,223.5 191.5,224.5 195.5,224.5 199.5,225.5 203.5,225.5 207.5,225.5 211.5,227.5 215.5,228.5 219.5,232.5 223.5,235.5 227.5,238.5 231.5,240.5 235.5,240.5 239.5,240.5 243.5,240.5 247.5,239.5 251.5,238.5 255.5,236.5 259.5,233.5 263.5,230.5 267.5,227.5 271.5,225.5 275.5,223.5 279.5,219.5 283.5,216.5 287.5,215.5 291.5,214.5 295.5,212.5 299.5,212.5 303.5,212.5 307.5,212.5 311.5,211.5 315.5,210.5 319.5,208.5 323.5,206.5 327.5,204.5 331.5,202.5 335.5,199.5 339.5,196.5 343.5,195.5 347.5,193.5 351.5,192.5 355.5,190.5 359.5,189.5 363.5,189.5 367.5,186.5 371.5,184.5 375.5,183.5 379.5,182.5 383.5,181.5 387.5,179.5 391.5,178.5 395.5,176.5 399.5,174.5 403.5,171.5 407.5,168.5 411.5,166.5 415.5,165.5 419.5,163.5 423.5,162.5 427.5,160.5 431.5,158.5 435.5,158.5 439.5,156.5 443.5,156.5 447.5,154.5 451.5,153.5 455.5,152.5 459.5,150.5 463.5,149.5 467.5,148.5 471.5,149.5 475.5,149.5 479.5,150.5 483.5,152.5 487.5,153.5 491.5,155.5 495.5,157.5 499.5,158.5 503.5,158.5 507.5,158.5 511.5,159.5 515.5,160.5 519.5,160.5 523.5,161.5 527.5,162.5 531.5,162.5 535.5,162.5 539.5,163.5 543.5,164.5 547.5,164.5 551.5,164.5 555.5,164.5 559.5,164.5 563.5,164.5 567.5,164.5 571.5,165.5 575.5,165.5 579.5,166.5 583.5,166.5 587.5,167.5 591.5,168.5 595.5,168.5 599.5,169.5 603.5,169.5 607.5,169.5 611.5,169.5 615.5,166.5 619.5,164.5 623.5,159.5 627.5,155.5" fill="none" stroke="#000" stroke-width="1" stroke-linecap="square"/></g><g transform="translate(0,1)"><polyline points="3.5,177.5 7.5,178.5 11.5,178.5 15.5,178.5 19.5,177.5 23.5,176.5 27.5,175.5 31.5,179.5 35.5,180.5 39.5,183.5 43.5,184.5 47.5,187.5 51.5,192.5 55.5,195.5 59.5,197.5 63.5,199.5 67.5,203.5 71.5,204.5 75.5,204.5 79.5,204.5 83.5,204.5 87.5,201.5 91.5,198.5 95.5,194.5 99.5,194.5 103.5,192.5 107.5,191.5 111.5,193.5 115.5,197.5 119.5,200.5 123.5,202.5 127.5,203.5 131.5,204.5 135.5,207.5 139.5,210.5 143.5,211.5 147.5,212.5 151.5,213.5 155.5,213.5 159.5,214.5 163.5,215.5 167.5,217.5 171.5,219.5 175.5,220.5 179.5,222.5 183.5,222.5 187.5,223.5 191.5,224.5 195.5,224.5 199.5,225.5 203.5,225.5 207.5,225.5 211.5,227.5 215.5,228.5 219.5,232.5 223.5,235.5 227.5,238.5 231.5,240.5 235.5,240.5 239.5,240.5 243.5,240.5 247.5,239.5 251.5,238.5 255.5,236.5 259.5,233.5 263.5,230.5 267.5,227.5 271.5,225.5 275.5,223.5 279.5,219.5 283.5,216.5 287.5,215.5 291.5,214.5 295.5,212.5 299.5,212.5 303.5,212.5 307.5,212.5 311.5,211.5 315.5,210.5 319.5,208.5 323.5,206.5 327.5,204.5 331.5,202.5 335.5,199.5 339.5,196.5 343.5,195.5 347.5,193.5 351.5,192.5 355.5,190.5 359.5,189.5 363.5,189.5 367.5,186.5 371.5,184.5 375.5,183.5 379.5,182.5 383.5,181.5 387.5,179.5 391.5,178.5 395.5,176.5 399.5,174.5 403.5,171.5 407.5,168.5 411.5,166.5 415.5,165.5 419.5,163.5 423.5,162.5 427.5,160.5 431.5,158.5 435.5,158.5 439.5,156.5 443.5,156.5 447.5,154.5 451.5,153.5 455.5,152.5 459.5,150.5 463.5,149.5 467.5,148.5 471.5,149.5 475.5,149.5 479.5,150.5 483.5,152.5 487.5,153.5 491.5,155.5 495.5,157.5 499.5,158.5 503.5,158.5 507.5,158.5 511.5,159.5 515.5,160.5 519.5,160.5 523.5,161.5 527.5,162.5 531.5,162.5 535.5,162.5 539.5,163.5 543.5,164.5 547.5,164.5 551.5,164.5 555.5,164.5 559.5,164.5 563.5,164.5 567.5,164.5 571.5,165.5 575.5,165.5 579.5,166.5 583.5,166.5 587.5,167.5 591.5,168.5 595.5,168.5 599.5,169.5 603.5,169.5 607.5,169.5 611.5,169.5 615.5,166.5 619.5,164.5 623.5,159.5 627.5,155.5" fill="none" stroke="#000" stroke-width="1" stroke-linecap="square"/></g><g transform="translate(1,1)"><polyline points="3.5,177.5 7.5,178.5 11.5,178.5 15.5,178.5 19.5,177.5 23.5,176.5 27.5,175.5 31.5,179.5 35.5,180.5 39.5,183.5 43.5,184.5 47.5,187.5 51.5,192.5 55.5,195.5 59.5,197.5 63.5,199.5 67.5,203.5 71.5,204.5 75.5,204.5 79.5,204.5 83.5,204.5 87.5,201.5 91.5,198.5 95.5,194.5 99.5,194.5 103.5,192.5 107.5,191.5 111.5,193.5 115.5,197.5 119.5,200.5 123.5,202.5 127.5,203.5 131.5,204.5 135.5,207.5 139.5,210.5 143.5,211.5 147.5,212.5 151.5,213.5 155.5,213.5 159.5,214.5 163.5,215.5 167.5,217.5 171.5,219.5 175.5,220.5 179.5,222.5 183.5,222.5 187.5,223.5 191.5,224.5 195.5,224.5 199.5,225.5 203.5,225.5 207.5,225.5 211.5,227.5 215.5,228.5 219.5,232.5 223.5,235.5 227.5,238.5 231.5,240.5 235.5,240.5 239.5,240.5 243.5,240.5 247.5,239.5 251.5,238.5 255.5,236.5 259.5,233.5 263.5,230.5 267.5,227.5 271.5,225.5 275.5,223.5 279.5,219.5 283.5,216.5 287.5,215.5 291.5,214.5 295.5,212.5 299.5,212.5 303.5,212.5 307.5,212.5 311.5,211.5 315.5,210.5 319.5,208.5 323.5,206.5 327.5,204.5 331.5,202.5 335.5,199.5 339.5,196.5 343.5,195.5 347.5,193.5 351.5,192.5 355.5,190.5 359.5,189.5 363.5,189.5 367.5,186.5 371.5,184.5 375.5,183.5 379.5,182.5 383.5,181.5 387.5,179.5 391.5,178.5 395.5,176.5 399.5,174.5 403.5,171.5 407.5,168.5 411.5,166.5 415.5,165.5 419.5,163.5 423.5,162.5 427.5,160.5 431.5,158.5 435.5,158.5 439.5,156.5 443.5,156.5 447.5,154.5 451.5,153.5 455.5,152.5 459.5,150.5 463.5,149.5 467.5,148.5 471.5,149.5 475.5,149.5 479.5,150.5 483.5,152.5 487.5,153.5 491.5,155.5 495.5,157.5 499.5,158.5 503.5,158.5 507.5,158.5 511.5,159.5 515.5,160.5 519.5,160.5 523.5,161.5 527.5,162.5 531.5,162.5 535.5,162.5 539.5,163.5 543.5,164.5 547.5,164.5 551.5,164.5 555.5,164.5 559.5,164.5 563.5,164.5 567.5,164.5 571.5,165.5 575.5,165.5 579.5,166.5 583.5,166.5 587.5,167.5 591.5,168.5 595.5,168.5 599.5,169.5 603.5,169.5 607.5,169.5 611.5,169.5 615.5,166.5 619.5,164.5 623.5,159.5 627.5,155.5" fill="none" stroke="#000" stroke-width="1" stroke-linecap="square"/></g><polyline points="3.5,165.5 7.5,166.5 11.5,166.5 15.5,166.5 19.5,166.5 23.5,167.5 27.5,167.5 31.5,169.5 35.5,170.5 39.5,171.5 43.5,173.5 47.5,174.5 51.5,176.5 55.5,178.5 59.5,180.5 63.5,181.5 67.5,183.5 71.5,185.5 75.5,186.5 79.5,188.5 83.5,188.5 87.5,187.5 91.5,186.5 95.5,186.5 99.5,185.5 103.5,184.5 107.5,185.5 111.5,186.5 115.5,188.5 119.5,189.5 123.5,190.5 127.5,191.5 131.5,193.5 135.5,194.5 139.5,196.5 143.5,197.5 147.5,198.5 151.5,199.5 155.5,200.5 159.5,201.5 163.5,202.5 167.5,203.5 171.5,204.5 175.5,204.5 179.5,206.5 183.5,208.5 187.5,208.5 191.5,209.5 195.5,210.5 199.5,211.5 203.5,212.5 207.5,213.5 211.5,214.5 215.5,216.5 219.5,217.5 223.5,218.5 227.5,220.5 231.5,222.5 235.5,223.5 239.5,224.5 243.5,225.5 247.5,226.5 251.5,225.5 255.5,224.5 259.5,224.5 263.5,222.5 267.5,221.5 271.5,220.5 275.5,219.5 279.5,218.5 283.5,216.5 287.5,215.5 291.5,215.5 295.5,215.5 299.5,215.5 303.5,216.5 307.5,216.5 311.5,215.5 315.5,214.5 319.5,213.5 323.5,212.5 327.5,210.5 331.5,209.5 335.5,208.5 339.5,206.5 343.5,205.5 347.5,204.5 351.5,203.5 355.5,202.5 359.5,201.5 363.5,201.5 367.5,200.5 371.5,198.5 375.5,197.5 379.5,196.5 383.5,195.5 387.5,194.5 391.5,192.5 395.5,191.5 399.5,189.5 403.5,187.5 407.5,186.5 411.5,184.5 415.5,183.5 419.5,181.5 423.5,180.5 427.5,178.5 431.5,177.5 435.5,176.5 439.5,175.5 443.5,174.5 447.5,172.5 451.5,171.5 455.5,170.5 459.5,169.5 463.5,169.5 467.5,168.5 471.5,166.5 475.5,166.5 479.5,165.5 483.5,166.5 487.5,166.5 491.5,166.5 495.5,166.5 499.5,166.5 503.5,166.5 507.5,166.5 511.5,166.5 515.5,166.5 519.5,166.5 523.5,166.5 527.5,166.5 531.5,166.5 535.5,166.5 539.5,167.5 543.5,167.5 547.5,167.5 551.5,167.5 555.5,167.5 559.5,167.5 563.5,167.5 567.5,167.5 571.5,167.5 575.5,167.5 579.5,167.5 583.5,167.5 587.5,167.5 591.5,168.5 595.5,168.5 599.5,168.5 603.5,169.5 607.5,169.5 611.5,169.5 615.5,168.5 619.5,166.5 623.5,165.5 627.5,162.5" fill="none" stroke="#0000ff" stroke-width="1" stroke-linecap="square"/></g><g clip-path="url(#cr)"><line x1="4" y1="393.5" x2="654" y2="393.5" stroke="#c0c0c0" stroke-dasharray="3,3"/><line x1="4" y1="402.5" x2="654" y2="402.5" stroke="#c0c0c0" stroke-dasharray="3,3"/><line x1="4" y1="412.5" x2="654" y2="412.5" stroke="#c0c0c0" stroke-dasharray="3,3"/><polyline points="3.5,409.5 7.5,407.5 11.5,405.5 15.5,401.5 19.5,399.5 23.5,399.5 27.5,403.5 31.5,413.5 35.5,410.5 39.5,408.5 43.5,409.5 47.5,411.5 51.5,413.5 55.5,413.5 59.5,412.5 63.5,411.5 67.5,413.5 71.5,407.5 75.5,405.5 79.5,405.5 83.5,403.5 87.5,397.5 91.5,397.5 95.5,396.5 99.5,400.5 103.5,401.5 107.5,402.5 111.5,407.5 115.5,409.5 119.5,407.5 123.5,405.5 127.5,405.5 131.5,406.5 135.5,408.5 139.5,406.5 143.5,406.5 147.5,406.5 151.5,406.5 155.5,405.5 159.5,405.5 163.5,406.5 167.5,408.5 171.5,408.5 175.5,408.5 179.5,408.5 183.5,406.5 187.5,407.5 191.5,407.5 195.5,406.5 199.5,405.5 203.5,405.5 207.5,406.5 211.5,407.5 215.5,410.5 219.5,414.5 223.5,415.5 227.5,413.5 231.5,409.5 235.5,407.5 239.5,405.5 243.5,404.5 247.5,403.5 251.5,399.5 255.5,397.5 259.5,395.5 263.5,394.5 267.5,394.5 271.5,396.5 275.5,396.5 279.5,395.5 283.5,393.5 287.5,396.5 291.5,398.5 295.5,400.5 299.5,401.5 303.5,401.5 307.5,401.5 311.5,400.5 315.5,399.5 319.5,397.5 323.5,395.5 327.5,395.5 331.5,392.5 335.5,394.5 339.5,395.5 343.5,395.5 347.5,396.5 351.5,396.5 355.5,396.5 359.5,397.5 363.5,397.5 367.5,396.5 371.5,396.5 375.5,396.5 379.5,396.5 383.5,396.5 387.5,394.5 391.5,394.5 395.5,393.5 399.5,390.5 403.5,390.5 407.5,390.5 411.5,394.5 415.5,395.5 419.5,396.5 423.5,395.5 427.5,395.5 431.5,395.5 435.5,395.5 439.5,395.5 443.5,394.5 447.5,400.5 451.5,396.5 455.5,396.5 459.5,397.5 463.5,397.5 467.5,399.5 471.5,403.5 475.5,403.5 479.5,403.5 483.5,405.5 487.5,409.5 491.5,408.5 495.5,406.5 499.5,405.5 503.5,405.5 507.5,405.5 511.5,405.5 515.5,406.5 519.5,407.5 523.5,405.5 527.5,406.5 531.5,404.5 535.5,405.5 539.5,405.5 543.5,405.5 547.5,404.5 551.5,403.5 555.5,402.5 559.5,402.5 563.5,405.5 567.5,405.5 571.5,405.5 575.5,405.5 579.5,405.5 583.5,406.5 587.5,406.5 591.5,405.5 595.5,405.5 599.5,408.5 603.5,410.5 607.5,402.5 611.5,399.5 615.5,396.5 619.5,395.5 623.5,391.5 627.5,389.5" fill="none" stroke="#0000ff" stroke-width="1" stroke-linecap="square"/><polyline points="3.5,410.5 7.5,408.5 11.5,408.5 15.5,407.5 19.5,406.5 23.5,404.5 27.5,404.5 31.5,406.5 35.5,406.5 39.5,407.5 43.5,408.5 47.5,409.5 51.5,410.5 55.5,410.5 59.5,410.5 63.5,410.5 67.5,410.5 71.5,409.5 75.5,408.5 79.5,408.5 83.5,406.5 87.5,405.5 91.5,403.5 95.5,402.5 99.5,402.5 103.5,401.5 107.5,401.5 111.5,402.5 115.5,404.5 119.5,404.5 123.5,404.5 127.5,405.5 131.5,405.5 135.5,405.5 139.5,405.5 143.5,405.5 147.5,405.5 151.5,405.5 155.5,405.5 159.5,405.5 163.5,405.5 167.5,406.5 171.5,406.5 175.5,406.5 179.5,407.5 183.5,407.5 187.5,407.5 191.5,407.5 195.5,407.5 199.5,406.5 203.5,406.5 207.5,406.5 211.5,406.5 215.5,407.5 219.5,409.5 223.5,410.5 227.5,410.5 231.5,410.5 235.5,409.5 239.5,408.5 243.5,407.5 247.5,406.5 251.5,405.5 255.5,403.5 259.5,402.5 263.5,400.5 267.5,398.5 271.5,398.5 275.5,398.5 279.5,398.5 283.5,397.5 287.5,396.5 291.5,397.5 295.5,398.5 299.5,399.5 303.5,399.5 307.5,400.5 311.5,400.5 315.5,400.5 319.5,399.5 323.5,398.5 327.5,397.5 331.5,396.5 335.5,396.5 339.5,395.5 343.5,395.5 347.5,396.5 351.5,396.5 355.5,396.5 359.5,396.5 363.5,396.5 367.5,396.5 371.5,396.5 375.5,396.5 379.5,396.5 383.5,396.5 387.5,395.5 391.5,395.5 395.5,394.5 399.5,394.5 403.5,393.5 407.5,392.5 411.5,392.5 415.5,393.5 419.5,394.5 423.5,394.5 427.5,394.5 431.5,394.5 435.5,394.5 439.5,394.5 443.5,394.5 447.5,395.5 451.5,396.5 455.5,396.5 459.5,396.5 463.5,396.5 467.5,397.5 471.5,398.5 475.5,399.5 479.5,400.5 483.5,401.5 487.5,403.5 491.5,404.5 495.5,404.5 499.5,404.5 503.5,404.5 507.5,404.5 511.5,404.5 515.5,405.5 519.5,405.5 523.5,405.5 527.5,405.5 531.5,405.5 535.5,405.5 539.5,405.5 543.5,405.5 547.5,405.5 551.5,404.5 555.5,404.5 559.5,403.5 563.5,404.5 567.5,405.5 571.5,405.5 575.5,405.5 579.5,405.5 583.5,405.5 587.5,405.5 591.5,405.5 595.5,406.5 599.5,406.5 603.5,406.5 607.5,406.5 611.5,404.5 615.5,402.5 619.5,401.5 623.5,399.5 627.5,397.5" fill="none" stroke="#ff0000" stroke-width="1" stroke-linecap="square"/></g><g clip-path="url(#cs)"><line x1="4" y1="441.5" x2="654" y2="441.5" stroke="#c0c0c0" stroke-dasharray="3,3"/><line x1="4" y1="456.5" x2="654" y2="456.5" stroke="#c0c0c0" stroke-dasharray="3,3"/><line x1="4" y1="472.5" x2="654" y2="472.5" stroke="#c0c0c0" stroke-dasharray="3,3"/><polyline points="3.5,471.5 7.5,469.5 11.5,461.5 15.5,442.5 19.5,441.5 23.5,442.5 27.5,448.5 31.5,462.5 35.5,472.5 39.5,472.5 43.5,470.5 47.5,472.5 51.5,475.5 55.5,475.5 59.5,468.5 63.5,460.5 67.5,460.5 71.5,455.5 75.5,449.5 79.5,443.5 83.5,441.5 87.5,441.5 91.5,442.5 95.5,442.5 99.5,444.5 103.5,451.5 107.5,460.5 111.5,469.5 115.5,478.5 119.5,475.5 123.5,471.5 127.5,464.5 131.5,457.5 135.5,459.5 139.5,458.5 143.5,461.5 147.5,455.5 151.5,452.5 155.5,450.5 159.5,449.5 163.5,455.5 167.5,467.5 171.5,473.5 175.5,471.5 179.5,468.5 183.5,465.5 187.5,460.5 191.5,455.5 195.5,451.5 199.5,450.5 203.5,448.5 207.5,453.5 211.5,461.5 215.5,465.5 219.5,473.5 223.5,475.5 227.5,474.5 231.5,466.5 235.5,456.5 239.5,445.5 243.5,440.5 247.5,435.5 251.5,438.5 255.5,442.5 259.5,445.5 263.5,443.5 267.5,441.5 271.5,443.5 275.5,447.5 279.5,451.5 283.5,448.5 287.5,449.5 291.5,453.5 295.5,461.5 299.5,471.5 303.5,477.5 307.5,472.5 311.5,463.5 315.5,453.5 319.5,443.5 323.5,438.5 327.5,437.5 331.5,438.5 335.5,439.5 339.5,441.5 343.5,446.5 347.5,454.5 351.5,463.5 355.5,462.5 359.5,460.5 363.5,456.5 367.5,448.5 371.5,443.5 375.5,447.5 379.5,451.5 383.5,452.5 387.5,449.5 391.5,443.5 395.5,440.5 399.5,439.5 403.5,440.5 407.5,441.5 411.5,446.5 415.5,453.5 419.5,460.5 423.5,463.5 427.5,459.5 431.5,452.5 435.5,446.5 439.5,441.5 443.5,445.5 447.5,455.5 451.5,455.5 455.5,451.5 459.5,444.5 463.5,443.5 467.5,445.5 471.5,453.5 475.5,461.5 479.5,466.5 483.5,468.5 487.5,473.5 491.5,477.5 495.5,471.5 499.5,464.5 503.5,456.5 507.5,446.5 511.5,440.5 515.5,443.5 519.5,456.5 523.5,464.5 527.5,472.5 531.5,459.5 535.5,457.5 539.5,449.5 543.5,451.5 547.5,456.5 551.5,453.5 555.5,448.5 559.5,439.5 563.5,449.5 567.5,460.5 571.5,472.5 575.5,472.5 579.5,474.5 583.5,470.5 587.5,466.5 591.5,457.5 595.5,450.5 599.5,458.5 603.5,466.5 607.5,458.5 611.5,444.5 615.5,436.5 619.5,438.5 623.5,436.5 627.5,434.5" fill="none" stroke="#20b2aa" stroke-width="1" stroke-linecap="square"/><polyline points="3.5,466.5 7.5,468.5 11.5,466.5 15.5,460.5 19.5,448.5 23.5,442.5 27.5,443.5 31.5,454.5 35.5,464.5 39.5,470.5 43.5,472.5 47.5,473.5 51.5,473.5 55.5,473.5 59.5,472.5 63.5,470.5 67.5,465.5 71.5,461.5 75.5,456.5 79.5,450.5 83.5,444.5 87.5,441.5 91.5,442.5 95.5,442.5 99.5,443.5 103.5,446.5 107.5,453.5 111.5,460.5 115.5,468.5 119.5,473.5 123.5,475.5 127.5,469.5 131.5,463.5 135.5,459.5 139.5,459.5 143.5,459.5 147.5,457.5 151.5,454.5 155.5,452.5 159.5,451.5 163.5,451.5 167.5,459.5 171.5,465.5 175.5,470.5 179.5,470.5 183.5,468.5 187.5,464.5 191.5,459.5 195.5,455.5 199.5,452.5 203.5,449.5 207.5,449.5 211.5,454.5 215.5,458.5 219.5,466.5 223.5,471.5 227.5,472.5 231.5,471.5 235.5,465.5 239.5,456.5 243.5,448.5 247.5,442.5 251.5,437.5 255.5,439.5 259.5,441.5 263.5,443.5 267.5,443.5 271.5,443.5 275.5,444.5 279.5,446.5 283.5,448.5 287.5,449.5 291.5,450.5 295.5,457.5 299.5,464.5 303.5,471.5 307.5,474.5 311.5,470.5 315.5,462.5 319.5,452.5 323.5,444.5 327.5,440.5 331.5,438.5 335.5,439.5 339.5,440.5 343.5,443.5 347.5,449.5 351.5,455.5 355.5,461.5 359.5,461.5 363.5,459.5 367.5,455.5 371.5,448.5 375.5,446.5 379.5,447.5 383.5,450.5 387.5,450.5 391.5,446.5 395.5,443.5 399.5,440.5 403.5,440.5 407.5,440.5 411.5,443.5 415.5,447.5 419.5,452.5 423.5,458.5 427.5,460.5 431.5,457.5 435.5,451.5 439.5,445.5 443.5,444.5 447.5,447.5 451.5,451.5 455.5,453.5 459.5,450.5 463.5,447.5 467.5,445.5 471.5,449.5 475.5,454.5 479.5,461.5 483.5,465.5 487.5,469.5 491.5,472.5 495.5,472.5 499.5,468.5 503.5,462.5 507.5,455.5 511.5,448.5 515.5,444.5 519.5,447.5 523.5,456.5 527.5,464.5 531.5,466.5 535.5,461.5 539.5,455.5 543.5,453.5 547.5,452.5 551.5,453.5 555.5,451.5 559.5,448.5 563.5,446.5 567.5,450.5 571.5,462.5 575.5,468.5 579.5,472.5 583.5,471.5 587.5,469.5 591.5,464.5 595.5,458.5 599.5,454.5 603.5,459.5 607.5,460.5 611.5,456.5 615.5,449.5 619.5,442.5 623.5,438.5 627.5,436.5" fill="none" stroke="#ff0000" stroke-width="1" stroke-dasharray="3,3"/></g><g clip-path="url(#cd)"><line x1="4" y1="512.5" x2="654" y2="512.5" stroke="#c0c0c0" stroke-dasharray="3,3"/><rect x="3" y="512" width="1" height="13" fill="#0000ff"/><rect x="7" y="512" width="1" height="13" fill="#0000ff"/><rect x="11" y="512" width="1" height="11" fill="#0000ff"/><rect x="15" y="512" width="1" height="8" fill="#0000ff"/><rect x="19" y="512" width="1" height="5" fill="#0000ff"/><rect x="23" y="512" width="1" height="4" fill="#0000ff"/><rect x="27" y="512" width="1" height="3" fill="#0000ff"/><rect x="31" y="512" width="1" height="7" fill="#0000ff"/><rect x="35" y="512" width="1" height="8" fill="#0000ff"/><rect x="39" y="512" width="1" height="10" fill="#0000ff"/><rect x="43" y="512" width="1" height="11" fill="#0000ff"/><rect x="47" y="512" width="1" height="13" fill="#0000ff"/><rect x="51" y="512" width="1" height="18" fill="#0000ff"/><rect x="55" y="512" width="1" height="20" fill="#0000ff"/><rect x="59" y="512" width="1" height="21" fill="#0000ff"/><rect x="63" y="512" width="1" height="22" fill="#0000ff"/><rect x="67" y="512" width="1" height="23" fill="#0000ff"/><rect x="71" y="512" width="1" height="23" fill="#0000ff"/><rect x="75" y="512" width="1" height="20" fill="#0000ff"/><rect x="79" y="512" width="1" height="19" fill="#0000ff"/><rect x="83" y="512" width="1" height="16" fill="#0000ff"/><rect x="87" y="512" width="1" height="7" fill="#0000ff"/><rect x="91" y="512" width="1" height="3" fill="#0000ff"/><rect x="95" y="510" width="1" height="3" fill="#0000ff"/><rect x="99" y="509" width="1" height="4" fill="#0000ff"/><rect x="103" y="508" width="1" height="5" fill="#0000ff"/><rect x="107" y="508" width="1" height="5" fill="#0000ff"/><rect x="111" y="512" width="1" height="1" fill="#0000ff"/><rect x="115" y="512" width="1" height="5" fill="#0000ff"/><rect x="119" y="512" width="1" height="8" fill="#0000ff"/><rect x="123" y="512" width="1" height="8" fill="#0000ff"/><rect x="127" y="512" width="1" height="8" fill="#0000ff"/><rect x="131" y="512" width="1" height="9" fill="#0000ff"/><rect x="135" y="512" width="1" height="12" fill="#0000ff"/><rect x="139" y="512" width="1" height="13" fill="#0000ff"/><rect x="143" y="512" width="1" height="13" fill="#0000ff"/><rect x="147" y="512" width="1" height="13" fill="#0000ff"/><rect x="151" y="512" width="1" height="13" fill="#0000ff"/><rect x="155" y="512" width="1" height="12" fill="#0000ff"/><rect x="159" y="512" width="1" height="12" fill="#0000ff"/><rect x="163" y="512" width="1" height="12" fill="#0000ff"/><rect x="167" y="512" width="1" height="13" fill="#0000ff"/><rect x="171" y="512" width="1" height="14" fill="#0000ff"/><rect x="175" y="512" width="1" height="14" fill="#0000ff"/><rect x="179" y="512" width="1" height="14" fill="#0000ff"/><rect x="183" y="512" width="1" height="14" fill="#0000ff"/><rect x="187" y="512" width="1" height="13" fill="#0000ff"/><rect x="191" y="512" width="1" height="12" fill="#0000ff"/><rect x="195" y="512" width="1" height="12" fill="#0000ff"/><rect x="199" y="512" width="1" height="10" fill="#0000ff"/><rect x="203" y="512" width="1" height="10" fill="#0000ff"/><rect x="207" y="512" width="1" height="10" fill="#0000ff"/><rect x="211" y="512" width="1" height="10" fill="#0000ff"/><rect x="215" y="512" width="1" height="10" fill="#0000ff"/><rect x="219" y="512" width="1" height="14" fill="#0000ff"/><rect x="223" y="512" width="1" height="18" fill="#0000ff"/><rect x="227" y="512" width="1" height="19" fill="#0000ff"/><rect x="231" y="512" width="1" height="18" fill="#0000ff"/><rect x="235" y="512" width="1" height="17" fill="#0000ff"/><rect x="239" y="512" width="1" height="15" fill="#0000ff"/><rect x="243" y="512" width="1" height="12" fill="#0000ff"/><rect x="247" y="512" width="1" height="10" fill="#0000ff"/><rect x="251" y="512" width="1" height="5" fill="#0000ff"/><rect x="255" y="512" width="1" height="2" fill="#0000ff"/><rect x="259" y="510" width="1" height="3" fill="#0000ff"/><rect x="263" y="506" width="1" height="7" fill="#0000ff"/><rect x="267" y="502" width="1" height="11" fill="#0000ff"/><rect x="271" y="501" width="1" height="12" fill="#0000ff"/><rect x="275" y="499" width="1" height="14" fill="#0000ff"/><rect x="279" y="497" width="1" height="16" fill="#0000ff"/><rect x="283" y="494" width="1" height="19" fill="#0000ff"/><rect x="287" y="494" width="1" height="19" fill="#0000ff"/><rect x="291" y="495" width="1" height="18" fill="#0000ff"/><rect x="295" y="497" width="1" height="16" fill="#0000ff"/><rect x="299" y="499" width="1" height="14" fill="#0000ff"/><rect x="303" y="501" width="1" height="12" fill="#0000ff"/><rect x="307" y="501" width="1" height="12" fill="#0000ff"/><rect x="311" y="502" width="1" height="11" fill="#0000ff"/><rect x="315" y="502" width="1" height="11" fill="#0000ff"/><rect x="319" y="501" width="1" height="12" fill="#0000ff"/><rect x="323" y="499" width="1" height="14" fill="#0000ff"/><rect x="327" y="498" width="1" height="15" fill="#0000ff"/><rect x="331" y="495" width="1" height="18" fill="#0000ff"/><rect x="335" y="494" width="1" height="19" fill="#0000ff"/><rect x="339" y="493" width="1" height="20" fill="#0000ff"/><rect x="343" y="493" width="1" height="20" fill="#0000ff"/><rect x="347" y="493" width="1" height="20" fill="#0000ff"/><rect x="351" y="494" width="1" height="19" fill="#0000ff"/><rect x="355" y="494" width="1" height="19" fill="#0000ff"/><rect x="359" y="495" width="1" height="18" fill="#0000ff"/><rect x="363" y="495" width="1" height="18" fill="#0000ff"/><rect x="367" y="495" width="1" height="18" fill="#0000ff"/><rect x="371" y="495" width="1" height="18" fill="#0000ff"/><rect x="375" y="496" width="1" height="17" fill="#0000ff"/><rect x="379" y="496" width="1" height="17" fill="#0000ff"/><rect x="383" y="496" width="1" height="17" fill="#0000ff"/><rect x="387" y="495" width="1" height="18" fill="#0000ff"/><rect x="391" y="496" width="1" height="17" fill="#0000ff"/><rect x="395" y="495" width="1" height="18" fill="#0000ff"/><rect x="399" y="493" width="1" height="20" fill="#0000ff"/><rect x="403" y="492" width="1" height="21" fill="#0000ff"/><rect x="407" y="490" width="1" height="23" fill="#0000ff"/><rect x="411" y="490" width="1" height="23" fill="#0000ff"/><rect x="415" y="491" width="1" height="22" fill="#0000ff"/><rect x="419" y="492" width="1" height="21" fill="#0000ff"/><rect x="423" y="491" width="1" height="22" fill="#0000ff"/><rect x="427" y="492" width="1" height="21" fill="#0000ff"/><rect x="431" y="493" width="1" height="20" fill="#0000ff"/><rect x="435" y="493" width="1" height="20" fill="#0000ff"/><rect x="439" y="494" width="1" height="19" fill="#0000ff"/><rect x="443" y="494" width="1" height="19" fill="#0000ff"/><rect x="447" y="496" width="1" height="17" fill="#0000ff"/><rect x="451" y="496" width="1" height="17" fill="#0000ff"/><rect x="455" y="496" width="1" height="17" fill="#0000ff"/><rect x="459" y="496" width="1" height="17" fill="#0000ff"/><rect x="463" y="496" width="1" height="17" fill="#0000ff"/><rect x="467" y="498" width="1" height="15" fill="#0000ff"/><rect x="471" y="501" width="1" height="12" fill="#0000ff"/><rect x="475" y="503" width="1" height="10" fill="#0000ff"/><rect x="479" y="504" width="1" height="9" fill="#0000ff"/><rect x="483" y="508" width="1" height="5" fill="#0000ff"/><rect x="487" y="511" width="1" height="2" fill="#0000ff"/><rect x="491" y="512" width="1" height="1" fill="#0000ff"/><rect x="495" y="512" width="1" height="2" fill="#0000ff"/><rect x="499" y="512" width="1" height="3" fill="#0000ff"/><rect x="503" y="512" width="1" height="3" fill="#0000ff"/><rect x="507" y="512" width="1" height="1" fill="#0000ff"/><rect x="511" y="512" width="1" height="2" fill="#0000ff"/><rect x="515" y="512" width="1" height="3" fill="#0000ff"/><rect x="519" y="512" width="1" height="3" fill="#0000ff"/><rect x="523" y="512" width="1" height="3" fill="#0000ff"/><rect x="527" y="512" width="1" height="3" fill="#0000ff"/><rect x="531" y="512" width="1" height="4" fill="#0000ff"/><rect x="535" y="512" width="1" height="4" fill="#0000ff"/><rect x="539" y="512" width="1" height="4" fill="#0000ff"/><rect x="543" y="512" width="1" height="4" fill="#0000ff"/><rect x="547" y="512" width="1" height="4" fill="#0000ff"/><rect x="551" y="512" width="1" height="4" fill="#0000ff"/><rect x="555" y="512" width="1" height="3" fill="#0000ff"/><rect x="559" y="512" width="1" height="3" fill="#0000ff"/><rect x="563" y="512" width="1" height="3" fill="#0000ff"/><rect x="567" y="512" width="1" height="3" fill="#0000ff"/><rect x="571" y="512" width="1" height="3" fill="#0000ff"/><rect x="575" y="512" width="1" height="3" fill="#0000ff"/><rect x="579" y="512" width="1" height="3" fill="#0000ff"/><rect x="583" y="512" width="1" height="3" fill="#0000ff"/><rect x="587" y="512" width="1" height="3" fill="#0000ff"/><rect x="591" y="512" width="1" height="4" fill="#0000ff"/><rect x="595" y="512" width="1" height="4" fill="#0000ff"/><rect x="599" y="512" width="1" height="4" fill="#0000ff"/><rect x="603" y="512" width="1" height="5" fill="#0000ff"/><rect x="607" y="512" width="1" height="5" fill="#0000ff"/><rect x="611" y="512" width="1" height="3" fill="#0000ff"/><rect x="615" y="511" width="1" height="2" fill="#0000ff"/><rect x="619" y="508" width="1" height="5" fill="#0000ff"/><rect x="623" y="502" width="1" height="11" fill="#0000ff"/><rect x="627" y="496" width="1" height="17" fill="#0000ff"/><polyline points="3.5,526.5 7.5,525.5 11.5,525.5 15.5,524.5 19.5,523.5 23.5,522.5 27.5,521.5 31.5,521.5 35.5,520.5 39.5,520.5 43.5,520.5 47.5,521.5 51.5,523.5 55.5,524.5 59.5,525.5 63.5,527.5 67.5,529.5 71.5,531.5 75.5,532.5 79.5,533.5 83.5,534.5 87.5,532.5 91.5,530.5 95.5,528.5 99.5,524.5 103.5,521.5 107.5,518.5 111.5,514.5 115.5,514.5 119.5,513.5 123.5,513.5 127.5,513.5 131.5,515.5 135.5,517.5 139.5,519.5 143.5,520.5 147.5,522.5 151.5,523.5 155.5,524.5 159.5,524.5 163.5,525.5 167.5,525.5 171.5,525.5 175.5,526.5 179.5,526.5 183.5,526.5 187.5,526.5 191.5,526.5 195.5,525.5 199.5,525.5 203.5,525.5 207.5,525.5 211.5,524.5 215.5,524.5 219.5,525.5 223.5,525.5 227.5,526.5 231.5,526.5 235.5,527.5 239.5,527.5 243.5,528.5 247.5,528.5 251.5,527.5 255.5,526.5 259.5,523.5 263.5,520.5 267.5,517.5 271.5,514.5 275.5,510.5 279.5,507.5 283.5,504.5 287.5,501.5 291.5,498.5 295.5,498.5 299.5,497.5 303.5,497.5 307.5,497.5 311.5,497.5 315.5,498.5 319.5,498.5 323.5,499.5 327.5,499.5 331.5,499.5 335.5,498.5 339.5,497.5 343.5,496.5 347.5,495.5 351.5,494.5 355.5,494.5 359.5,493.5 363.5,494.5 367.5,494.5 371.5,494.5 375.5,494.5 379.5,494.5 383.5,494.5 387.5,495.5 391.5,495.5 395.5,495.5 399.5,495.5 403.5,494.5 407.5,494.5 411.5,493.5 415.5,493.5 419.5,492.5 423.5,492.5 427.5,492.5 431.5,492.5 435.5,492.5 439.5,492.5 443.5,492.5 447.5,492.5 451.5,493.5 455.5,493.5 459.5,493.5 463.5,494.5 467.5,495.5 471.5,495.5 475.5,496.5 479.5,497.5 483.5,499.5 487.5,500.5 491.5,503.5 495.5,505.5 499.5,507.5 503.5,510.5 507.5,513.5 511.5,513.5 515.5,514.5 519.5,514.5 523.5,515.5 527.5,515.5 531.5,515.5 535.5,515.5 539.5,515.5 543.5,516.5 547.5,516.5 551.5,515.5 555.5,515.5 559.5,515.5 563.5,515.5 567.5,515.5 571.5,515.5 575.5,515.5 579.5,515.5 583.5,515.5 587.5,515.5 591.5,515.5 595.5,515.5 599.5,515.5 603.5,515.5 607.5,515.5 611.5,516.5 615.5,514.5 619.5,514.5 623.5,513.5 627.5,513.5" fill="none" stroke="#ff0000" stroke-width="1" stroke-dasharray="3,3"/></g><rect x="2.5" y="2.5" width="652" height="373" fill="none" stroke="#000"/><rect x="2.5" y="377.5" width="652" height="50" fill="none" stroke="#000"/><rect x="2.5" y="429.5" width="652" height="54" fill="none" stroke="#000"/><rect x="2.5" y="485.5" width="652" height="54" fill="none" stroke="#000"/><rect x="655" y="9" width="2" height="1" fill="#000"/><rect x="655" y="42" width="2" height="1" fill="#000"/><rect x="655" y="75" width="2" height="1" fill="#000"/><rect x="655" y="108" width="2" height="1" fill="#000"/><rect x="655" y="141" width="2" height="1" fill="#000"/><rect x="655" y="174" width="2" height="1" fill="#000"/><rect x="655" y="207" width="2" height="1" fill="#000"/><rect x="655" y="240" width="2" height="1" fill="#000"/><rect x="655" y="273" width="2" height="1" fill="#000"/><rect x="655" y="306" width="2" height="1" fill="#000"/><rect x="655" y="339" width="2" height="1" fill="#000"/><rect x="655" y="372" width="2" height="1" fill="#000"/><rect x="655" y="379" width="1" height="1" fill="#000"/><rect x="655" y="426" width="1" height="1" fill="#000"/><rect x="655" y="431" width="1" height="1" fill="#000"/><rect x="655" y="481" width="1" height="1" fill="#000"/><rect x="655" y="487" width="1" height="1" fill="#000"/><rect x="655" y="538" width="1" height="1" fill="#000"/><rect x="3" y="540" width="1" height="3" fill="#000"/><rect x="67" y="540" width="1" height="3" fill="#000"/><rect x="131" y="540" width="1" height="3" fill="#000"/><rect x="195" y="540" width="1" height="3" fill="#000"/><rect x="259" y="540" width="1" height="3" fill="#000"/><rect x="323" y="540" width="1" height="3" fill="#000"/><rect x="387" y="540" width="1" height="3" fill="#000"/><rect x="451" y="540" width="1" height="3" fill="#000"/><rect x="515" y="540" width="1" height="3" fill="#000"/><rect x="579" y="540" width="1" height="3" fill="#000"/></svg>
<div class="t" style="left:660px;top:5px;color:#000;">1.09680</div><div class="t" style="left:660px;top:38px;color:#000;">1.09385</div><div class="t" style="left:660px;top:71px;color:#000;">1.09090</div><div class="t" style="left:660px;top:104px;color:#000;">1.08800</div><div class="t" style="left:660px;top:137px;color:#000;">1.08505</div><div class="t" style="left:660px;top:170px;color:#000;">1.08210</div><div class="t" style="left:660px;top:203px;color:#000;">1.07920</div><div class="t" style="left:660px;top:236px;color:#000;">1.07625</div><div class="t" style="left:660px;top:269px;color:#000;">1.07330</div><div class="t" style="left:660px;top:302px;color:#000;">1.07035</div><div class="t" style="left:660px;top:335px;color:#000;">1.06745</div><div class="t" style="left:660px;top:368px;color:#000;">1.06450</div>
<div class="b" style="top:25px;background:#ff0000;"><span>1.09484</span></div><div class="b" style="top:55px;background:#ff0000;"><span>1.09222</span></div><div class="b" style="top:99px;background:#000;"><span>1.08840</span></div><div class="b" style="top:118px;background:#008000;"><span>1.08658</span></div><div class="b" style="top:149px;background:#008000;"><span>1.08379</span></div><div class="b" style="top:208px;background:#008000;"><span>1.07860</span></div>
<div class="t" style="left:18px;top:5px;transform:scaleX(0.93);">EURUSD,M30  1.08755 1.08851 1.08669 1.08840</div>
<svg style="position:absolute;left:0;top:0" width="20" height="20"><polygon points="6,9 13,9 9.5,13" fill="#000"/></svg>
<div class="t" style="left:7px;top:381px;">RSI(14) 77.4386  -&gt;MA(9) 62.0478</div>
<div class="t" style="left:7px;top:433px;transform:scaleX(0.92);">Stoch(5,3,3) 94.1243 90.3106</div>
<div class="t" style="left:7px;top:489px;">MACD(12,26,9) 0.000887 0.000060</div>
<div class="t" style="left:658px;top:379px;">100</div>
<div class="t" style="left:658px;top:388px;">70</div>
<div class="t" style="left:658px;top:397px;">50</div>
<div class="t" style="left:658px;top:406px;">30</div>
<div class="t" style="left:658px;top:415px;">0</div>
<div class="t" style="left:658px;top:432px;">100</div>
<div class="t" style="left:658px;top:437px;">80</div>
<div class="t" style="left:658px;top:452px;">50</div>
<div class="t" style="left:658px;top:468px;">20</div>
<div class="t" style="left:658px;top:472px;">0</div>
<div class="t" style="left:658px;top:488px;">0.001325</div>
<div class="t" style="left:658px;top:508px;">0.00</div>
<div class="t" style="left:657px;top:508px;">0</div>
<div class="t" style="left:658px;top:528px;">-0.001428</div>
<div class="t" style="left:3px;top:543px;">23 Apr 2020</div>
<div class="t" style="left:67px;top:543px;">23 Apr 14:30</div>
<div class="t" style="left:131px;top:543px;">23 Apr 22:30</div>
<div class="t" style="left:195px;top:543px;">24 Apr 06:30</div>
<div class="t" style="left:259px;top:543px;">24 Apr 14:30</div>
<div class="t" style="left:323px;top:543px;">24 Apr 22:30</div>
<div class="t" style="left:387px;top:543px;">27 Apr 06:30</div>
<div class="t" style="left:451px;top:543px;">27 Apr 14:30</div>
<div class="t" style="left:515px;top:543px;">27 Apr 22:30</div>
<div class="t" style="left:579px;top:543px;">28 Apr 06:30</div>
</body></html>
